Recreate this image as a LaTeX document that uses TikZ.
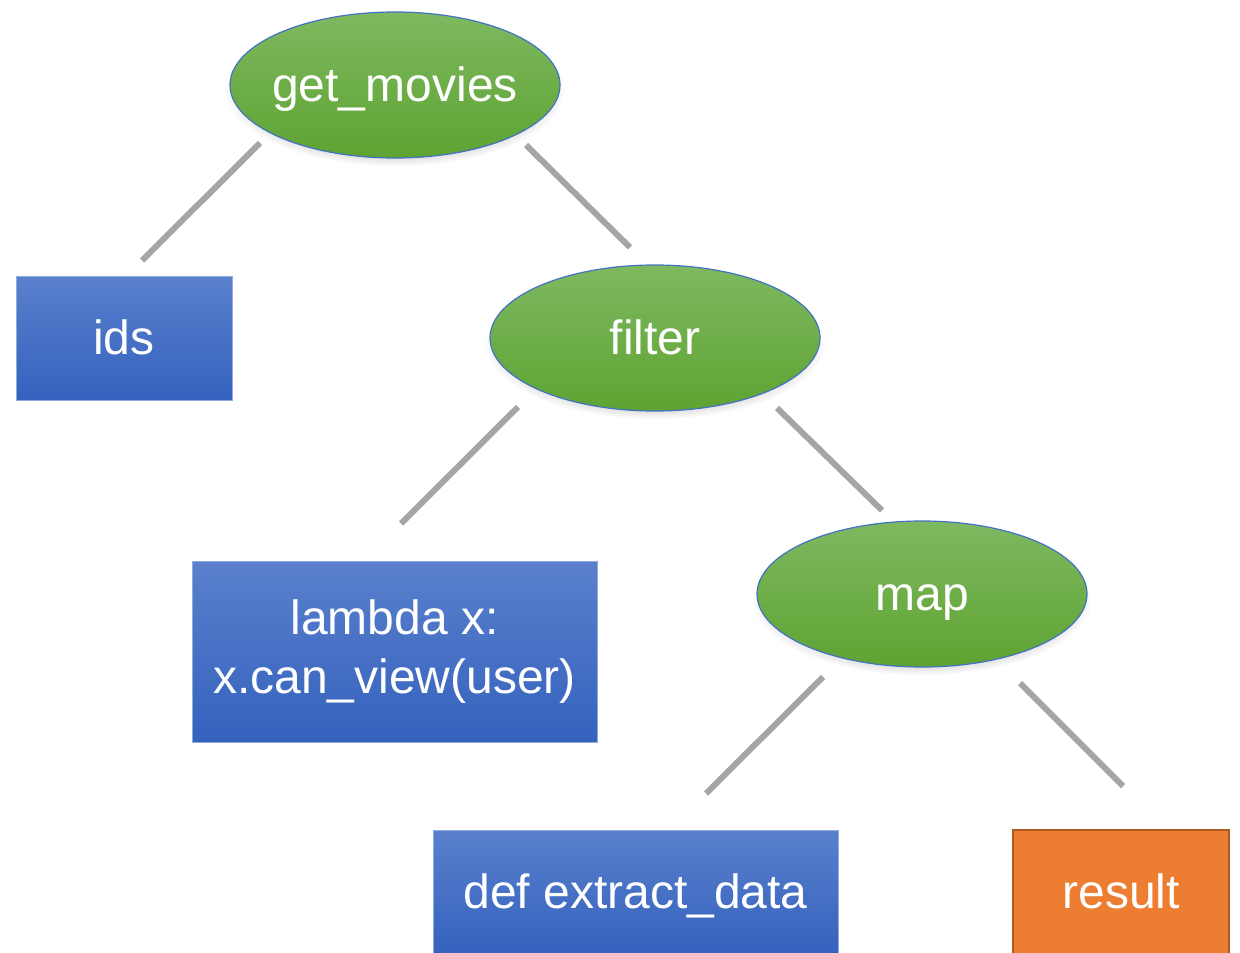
\documentclass[tikz,border=0pt]{standalone}
\usepackage{fontspec}
\setmainfont{Liberation Sans}
\usepackage{tikz}
\usetikzlibrary{shapes.geometric, shadows}
\definecolor{calltop}{HTML}{7EB960}
\definecolor{callbot}{HTML}{5EA332}
\definecolor{argtop}{HTML}{5A80CD}
\definecolor{argbot}{HTML}{3462BD}
\definecolor{argedge}{HTML}{8FAADC}
\definecolor{calledge}{HTML}{4472C4}
\definecolor{resfill}{HTML}{ED7D31}
\definecolor{resedge}{HTML}{AE5A21}
\definecolor{linkgray}{HTML}{A5A5A5}

\begin{document}
\begin{tikzpicture}[
        x=0.5pt, y=-0.5pt,
        txt/.style={text=white, font=\fontsize{24}{29.5}\selectfont, text height=21.7pt, text depth=5.1pt},
        call/.style={txt, ellipse, draw=calledge, line width=0.6pt, top color=calltop, bottom color=callbot, minimum width=165pt, minimum height=73pt, inner xsep=-6pt, inner ysep=0pt,
            circular drop shadow={shadow xshift=0pt, shadow yshift=-3pt, shadow scale=1.03, opacity=0.3}},
        arg/.style={txt, rectangle, draw=argedge, line width=0.5pt, top color=argtop, bottom color=argbot, minimum height=62pt, align=center},
        res/.style={txt, rectangle, draw=resedge, line width=0.75pt, fill=resfill, minimum width=108pt, minimum height=62pt},
        link/.style={draw=linkgray, line width=3pt}
    ]
        \useasboundingbox (0,0) rectangle (1240,952);

        \node[call] (movies) at (395,85) {get\_movies};
        \node[arg, minimum width=108pt] (ids) at (124,338) {ids};
        \node[call] (filter) at (655,338) {filter};
        \node[arg, text height=, text depth=, minimum width=202.5pt, minimum height=90.5pt] (lambda) at (394.5,651.5) {lambda x:\\x.can\_view(user)};
        \node[call] (map) at (922,594) {map};
        \node[arg, minimum width=202.5pt] (extract) at (635.5,892) {def extract\_data};
        \node[res] (result) at (1121,892) {result};

        \draw[link] ([shift={(-135,58)}]movies.center) -- ([shift={(18,-15)}]ids.north);
        \draw[link] ([shift={(131,60)}]movies.center) -- ([shift={(-25,-17)}]filter.north);
        \draw[link] ([shift={(-137,69)}]filter.center) -- ([shift={(6.5,-37)}]lambda.north);
        \draw[link] ([shift={(122,70)}]filter.center) -- ([shift={(-40,-10)}]map.north);
        \draw[link] ([shift={(-99,83)}]map.center) -- ([shift={(70.5,-36)}]extract.north);
        \draw[link] ([shift={(98,89)}]map.center) -- ([shift={(2,-43)}]result.north);
    \end{tikzpicture}
\end{document}
